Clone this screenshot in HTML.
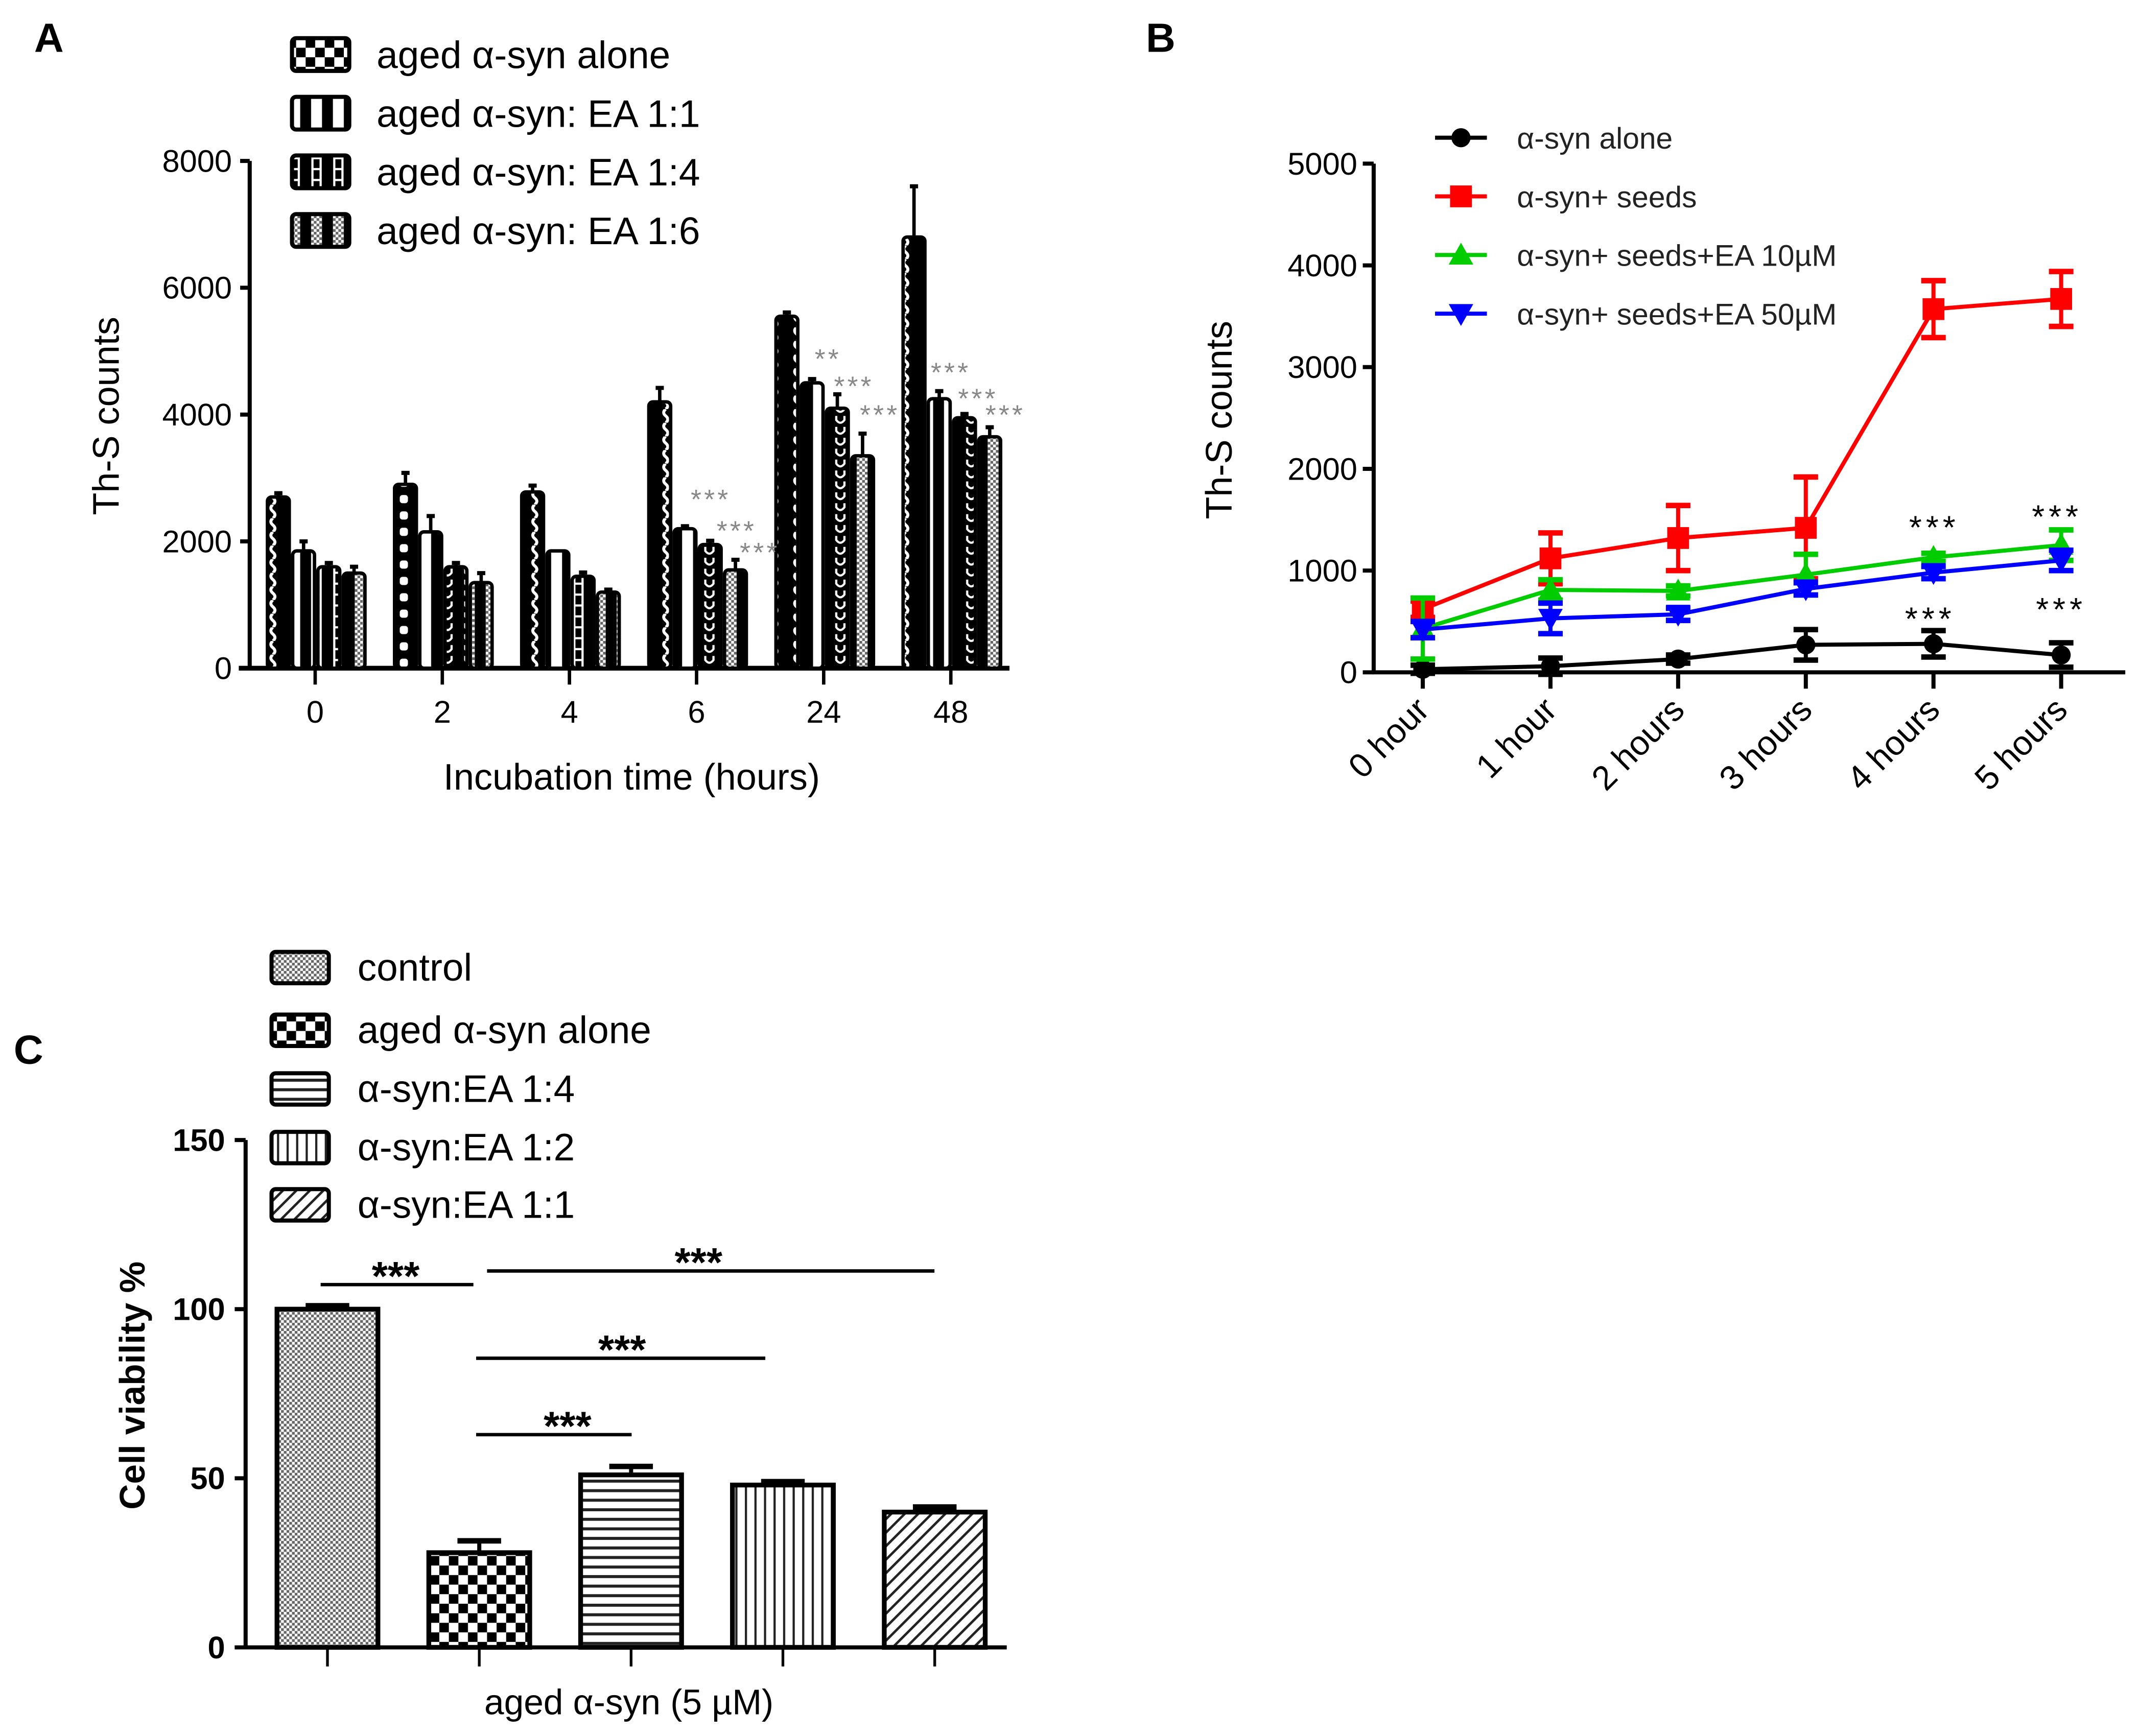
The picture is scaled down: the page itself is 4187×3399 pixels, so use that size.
<!DOCTYPE html>
<html><head><meta charset="utf-8"><style>
html,body{margin:0;padding:0;background:#fff}
svg{display:block}
text{font-family:"Liberation Sans",Arial,sans-serif}
</style></head><body>
<svg id="fig" width="4187" height="3399" viewBox="0 0 1568 1273" xmlns="http://www.w3.org/2000/svg">
<defs>
<pattern id="pWave" width="16" height="10" patternUnits="userSpaceOnUse"><rect width="16" height="10" fill="#000"/><path d="M8 0 q-3 2.5 0 5 q3 2.5 0 5" stroke="#fff" stroke-width="2.2" fill="none"/></pattern>
<pattern id="pDots" width="16" height="12" patternUnits="userSpaceOnUse"><rect width="16" height="12" fill="#000"/><rect x="5" y="3" width="6" height="6" rx="2" fill="#fff"/></pattern>
<pattern id="pWhite" width="16" height="10" patternUnits="userSpaceOnUse"><rect width="16" height="10" fill="#000"/><rect x="4" y="0" width="8" height="10" fill="#fff"/></pattern>
<pattern id="pH" width="16" height="8" patternUnits="userSpaceOnUse"><rect width="16" height="8" fill="#000"/><path d="M5 0v8M11 0v8M5 4h6" stroke="#fff" stroke-width="1.6"/></pattern>
<pattern id="pU" width="16" height="8" patternUnits="userSpaceOnUse"><rect width="16" height="8" fill="#000"/><path d="M5 1v3q3 4 6 0v-3" stroke="#fff" stroke-width="1.6" fill="none"/></pattern>
<pattern id="pFine" width="4" height="4" patternUnits="userSpaceOnUse"><rect width="4" height="4" fill="#fff"/><rect width="2" height="2" fill="#666"/><rect x="2" y="2" width="2" height="2" fill="#666"/></pattern>
<pattern id="pFineBar" width="16" height="4" patternUnits="userSpaceOnUse"><rect width="16" height="4" fill="#000"/><rect x="4" width="8" height="4" fill="url(#pFine)"/></pattern>
<pattern id="pChk" width="14" height="14" patternUnits="userSpaceOnUse"><rect width="14" height="14" fill="#fff"/><rect width="7" height="7" fill="#000"/><rect x="7" y="7" width="7" height="7" fill="#000"/></pattern>
<pattern id="pHoriz" width="6" height="7" patternUnits="userSpaceOnUse"><rect width="6" height="7" fill="#fff"/><rect y="0" width="6" height="2.2" fill="#222"/></pattern>
<pattern id="pVert" width="7" height="6" patternUnits="userSpaceOnUse"><rect width="7" height="6" fill="#fff"/><rect width="1.6" height="6" fill="#222"/></pattern>
<pattern id="pDiag" width="7" height="7" patternUnits="userSpaceOnUse" patternTransform="rotate(45)"><rect width="7" height="7" fill="#fff"/><rect width="1.8" height="7" fill="#222"/></pattern>
</defs>
<g id="A"></g>
<g id="B"></g>
<g id="C"></g>
</svg>
<script>
// ---- Panel A data ----
const aCategories = ["0","2","4","6","24","48"];
const aSeriesNames = ["aged α-syn alone","aged α-syn: EA 1:1","aged α-syn: EA 1:4","aged α-syn: EA 1:6"];
const aAlone = [2700,2900,2780,4200,5550,6800];
const aEA11 = [1850,2150,1850,2200,4500,4250];
const aEA14 = [1600,1600,1450,1950,4100,3950];
const aEA16 = [1500,1350,1200,1550,3350,3650];
const aErrAlone = [60,180,100,220,60,800];
const aErr11 = [150,250,0,40,60,120];
const aErr14 = [60,60,60,60,220,60];
const aErr16 = [100,150,40,160,350,150];
const aTicks = [0,2000,4000,6000,8000];
// ---- Panel B data ----
const bCategories = ["0 hour","1 hour","2 hours","3 hours","4 hours","5 hours"];
const bAlone = [30,60,130,270,280,170];
const bSeeds = [620,1120,1320,1420,3570,3670];
const bEA10 = [430,810,800,960,1130,1250];
const bEA50 = [420,530,570,820,980,1100];
const bErrAlone = [40,80,40,150,130,120];
const bErrSeeds = [80,250,320,500,280,270];
const bErrEA10 = [300,100,50,200,40,150];
const bErrEA50 = [80,150,60,60,60,100];
const bTicks = [0,1000,2000,3000,4000,5000];
// ---- Panel C data ----
const cCategories = ["control","aged α-syn alone","α-syn:EA  1:4","α-syn:EA  1:2","α-syn:EA  1:1"];
const cValues = [100,28,51,48,40];
const cErrors = [1,3.5,2.5,1,1.5];
const cTicks = [0,50,100,150];

const NS="http://www.w3.org/2000/svg";
function mk(parent,tag,attrs,txt){const e=document.createElementNS(NS,tag);for(const k in attrs)e.setAttribute(k,attrs[k]);if(txt!==undefined)e.textContent=txt;parent.appendChild(e);return e;}

// ===== Panel A =====
(function(){
const g=document.getElementById('A');
const y=v=>490-(v-0)*(490-118)/8000;
const gx=i=>231+i*93.2;
let t=mk(g,'text',{x:25,y:38,'font-size':30,'font-weight':'bold'},'A');


let ax=mk(g,'line',{x1:183,y1:118,x2:183,y2:491,stroke:'#000','stroke-width':3});


ax=mk(g,'line',{x1:175,y1:490,x2:740,y2:490,stroke:'#000','stroke-width':3.5});


aTicks.forEach(v=>{mk(g,'line',{x1:176,y1:y(v),x2:183,y2:y(v),stroke:'#000','stroke-width':3});
 const l=mk(g,'text',{x:170,y:y(v)+8,'font-size':23,'text-anchor':'end'},String(v));
 
 });
aCategories.forEach((c,i)=>{mk(g,'line',{x1:gx(i),y1:490,x2:gx(i),y2:502,stroke:'#000','stroke-width':2.5});
 const l=mk(g,'text',{x:gx(i),y:530,'font-size':23,'text-anchor':'middle'},c);
 
 });
const series=[aAlone,aEA11,aEA14,aEA16], errs=[aErrAlone,aErr11,aErr14,aErr16];
const fills=['url(#pWave)','url(#pWhite)','url(#pH)','url(#pFineBar)'];
aCategories.forEach((c,i)=>{series.forEach((s,j)=>{
 const x0=gx(i)-35+j*18.5;
 const fill=(j===0&&i===1)?'url(#pDots)':(j===2&&(i===1||i>=3))?'url(#pU)':fills[j];
 const b=mk(g,'rect',{x:x0,y:y(s[i]),width:16,height:490-y(s[i]),fill:fill,stroke:'#000','stroke-width':2.5,rx:3});
 
 
 if(errs[j][i]>0){mk(g,'line',{x1:x0+8,y1:y(s[i]),x2:x0+8,y2:y(s[i]+errs[j][i]),stroke:'#000','stroke-width':2.5});
 mk(g,'line',{x1:x0+5,y1:y(s[i]+errs[j][i]),x2:x0+11,y2:y(s[i]+errs[j][i]),stroke:'#000','stroke-width':3});}
});});
// significance marks (grey)
[[521,365,'***'],[540,388,'***'],[557,404,'***'],[607,262,'**'],[626,282,'***'],[645,303,'***'],[697,272,'***'],[717,291,'***'],[737,303,'***']].forEach(a=>{
 const s=mk(g,'text',{x:a[0],y:a[1]+8,'font-size':20,fill:'#888','text-anchor':'middle','letter-spacing':2},a[2]);
 
 });
let yl=mk(g,'text',{x:0,y:0,'font-size':27,'text-anchor':'middle',transform:'translate(87,305) rotate(-90)'},'Th-S counts');


let xl=mk(g,'text',{x:463,y:579,'font-size':27,'text-anchor':'middle'},'Incubation time (hours)');


const lf=['url(#pDots)','url(#pWhite)','url(#pH)','url(#pFineBar)'];
aSeriesNames.forEach((n,j)=>{const yy=28+j*43;
 const e=mk(g,'g',{});
 
 
 mk(e,'rect',{x:214,y:yy,width:42,height:24,fill:j===0?'url(#pChk)':lf[j],stroke:'#000','stroke-width':3,rx:3});
 mk(e,'text',{x:276,y:yy+22,'font-size':28},n);});
})();

// ===== Panel B =====
(function(){
const g=document.getElementById('B');
const y=v=>493-v*(493-120)/5000;
const x=i=>1043+i*93.6;
let t=mk(g,'text',{x:840,y:38,'font-size':30,'font-weight':'bold'},'B');


let ax=mk(g,'line',{x1:1007,y1:120,x2:1007,y2:494,stroke:'#000','stroke-width':3});


ax=mk(g,'line',{x1:1006,y1:493,x2:1558,y2:493,stroke:'#000','stroke-width':3});


bTicks.forEach(v=>{mk(g,'line',{x1:999,y1:y(v),x2:1007,y2:y(v),stroke:'#000','stroke-width':3});
 const l=mk(g,'text',{x:995,y:y(v)+8,'font-size':23,'text-anchor':'end'},String(v));
 
 });
bCategories.forEach((c,i)=>{mk(g,'line',{x1:x(i),y1:493,x2:x(i),y2:505,stroke:'#000','stroke-width':3});
 const l=mk(g,'text',{x:0,y:0,'font-size':25,'text-anchor':'end',transform:`translate(${x(i)+6},${522}) rotate(-45)`},c);
 
 });
const S=[[bAlone,bErrAlone,'#000','circle','α-syn alone'],[bSeeds,bErrSeeds,'#f00','square','α-syn+ seeds'],[bEA10,bErrEA10,'#0c0','tri','α-syn+ seeds+EA 10µM'],[bEA50,bErrEA50,'#00f','tridown','α-syn+ seeds+EA 50µM']];
function marker(p,kind,cx,cy,col){
 if(kind==='circle')return mk(p,'circle',{cx:cx,cy:cy,r:7,fill:col});
 if(kind==='square')return mk(p,'rect',{x:cx-8,y:cy-8,width:16,height:16,fill:col});
 if(kind==='tri')return mk(p,'polygon',{points:`${cx},${cy-9} ${cx+9},${cy+7} ${cx-9},${cy+7}`,fill:col});
 return mk(p,'polygon',{points:`${cx},${cy+9} ${cx+9},${cy-7} ${cx-9},${cy-7}`,fill:col});}
S.forEach((s,k)=>{
 const sg=mk(g,'g',{});
 
 
 const pl=mk(sg,'polyline',{points:s[0].map((v,i)=>x(i)+','+y(v)).join(' '),fill:'none',stroke:s[2],'stroke-width':3});
 
 
 s[0].forEach((v,i)=>{const e=s[1][i];
  mk(sg,'line',{x1:x(i),y1:y(v-e),x2:x(i),y2:y(v+e),stroke:s[2],'stroke-width':3});
  [v-e,v+e].forEach(w=>mk(sg,'line',{x1:x(i)-9,y1:y(w),x2:x(i)+9,y2:y(w),stroke:s[2],'stroke-width':4}));
  const m=marker(sg,s[3],x(i),y(v),s[2]);
  
  });
 const yy=101+k*43;
 const le=mk(g,'g',{});
 
 
 mk(le,'line',{x1:1052,y1:yy,x2:1090,y2:yy,stroke:s[2],'stroke-width':3});
 marker(le,s[3],1071,yy,s[2]);
 mk(le,'text',{x:1112,y:yy+8,'font-size':22,fill:'#222'},s[4]);
});
[[1418,385],[1508,377],[1415,452],[1511,445]].forEach(a=>{
 const s=mk(g,'text',{x:a[0],y:a[1]+10,'font-size':24,'text-anchor':'middle','letter-spacing':3},'***');
 
 });
let yl=mk(g,'text',{x:0,y:0,'font-size':27,'text-anchor':'middle',transform:'translate(903,308) rotate(-90)'},'Th-S counts');


})();

// ===== Panel C =====
(function(){
const g=document.getElementById('C');
const y=v=>1208-v*(1208-836)/150;
const x=i=>240+i*111.3;
let t=mk(g,'text',{x:10,y:780,'font-size':30,'font-weight':'bold'},'C');


let ax=mk(g,'line',{x1:180,y1:836,x2:180,y2:1209,stroke:'#000','stroke-width':3});


ax=mk(g,'line',{x1:172,y1:1208,x2:738,y2:1208,stroke:'#000','stroke-width':3});


cTicks.forEach(v=>{mk(g,'line',{x1:172,y1:y(v),x2:180,y2:y(v),stroke:'#000','stroke-width':3});
 const l=mk(g,'text',{x:165,y:y(v)+8,'font-size':23,'font-weight':'bold','text-anchor':'end'},String(v));
 
 });
const fills=['url(#pFine)','url(#pChk)','url(#pHoriz)','url(#pVert)','url(#pDiag)'];
cValues.forEach((v,i)=>{
 mk(g,'line',{x1:x(i),y1:1208,x2:x(i),y2:1222,stroke:'#000','stroke-width':2});
 const b=mk(g,'rect',{x:x(i)-37,y:y(v),width:74,height:1208-y(v),fill:fills[i],stroke:'#000','stroke-width':3.5});
 
 
 const e=cErrors[i];
 mk(g,'line',{x1:x(i),y1:y(v),x2:x(i),y2:y(v+e),stroke:'#000','stroke-width':3});
 mk(g,'line',{x1:x(i)-16,y1:y(v+e),x2:x(i)+16,y2:y(v+e),stroke:'#000','stroke-width':4});
});
[[235,347,942,290],[357,685,932,512],[349,561,996,456],[349,463,1052,416]].forEach(a=>{
 const sg=mk(g,'g',{});
 
 
 mk(sg,'line',{x1:a[0],y1:a[2],x2:a[1],y2:a[2],stroke:'#000','stroke-width':2.5});
 mk(sg,'text',{x:a[3],y:a[2]+4,'font-size':30,'font-weight':'bold','text-anchor':'middle'},'***');});
let yl=mk(g,'text',{x:0,y:0,'font-size':26,'font-weight':'bold','text-anchor':'middle',transform:'translate(106,1016) rotate(-90)'},'Cell viability %');


let xl=mk(g,'text',{x:461,y:1257,'font-size':26,'text-anchor':'middle'},'aged α-syn (5 µM)');


cCategories.forEach((n,j)=>{const yy=[698,744,787,830,872][j];
 const e=mk(g,'g',{});
 
 
 mk(e,'rect',{x:199,y:yy,width:42,height:23,fill:fills[j],stroke:'#000','stroke-width':3,rx:3});
 mk(e,'text',{x:262,y:yy+21,'font-size':28},n);});
})();
</script>
</body></html>
